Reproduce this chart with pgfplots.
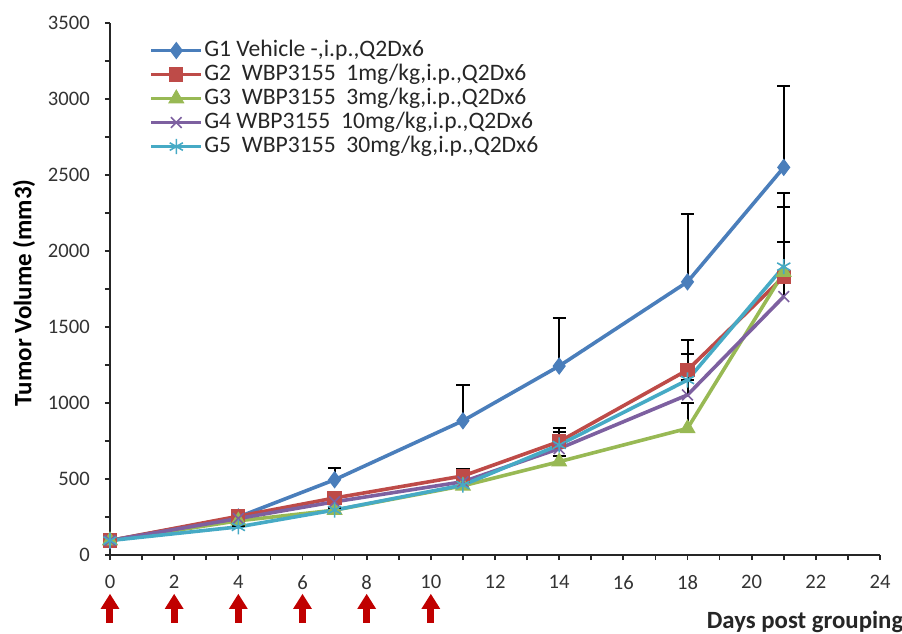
\documentclass[border=0pt]{standalone}
\usepackage{pgfplots}
\pgfplotsset{compat=1.18}
\usepackage{fontspec}
\setmainfont{Carlito}
\usetikzlibrary{arrows.meta}
\definecolor{cG1}{RGB}{74,126,187}
\definecolor{cG2}{RGB}{190,75,72}
\definecolor{cG3}{RGB}{152,185,84}
\definecolor{cG4}{RGB}{125,96,160}
\definecolor{cG5}{RGB}{70,170,197}
\definecolor{arr}{RGB}{192,0,0}
\begin{document}
\begin{tikzpicture}
\begin{axis}[
  scale only axis, width=385pt, height=266pt,
  xmin=0, xmax=24, ymin=0, ymax=3500,
  axis lines*=left, axis line style={-, line width=0.9pt, black!85},
  xtick distance=2, minor x tick num=1,
  ytick distance=500, minor y tick num=1,
  tick align=outside, major tick length=2.6pt, minor tick length=2.6pt,
  tick style={line width=0.9pt, black!85},
  /pgf/number format/assume math mode=true,
  /pgf/number format/1000 sep={},
  tick label style={font=\fontsize{10.3}{12}\selectfont, text=black!80},
  xticklabel style={yshift=-4pt},
  yticklabel style={xshift=-4pt},
  clip=false,
  ylabel={\textbf{Tumor Volume (mm3)}},
  ylabel style={font=\fontsize{12.5}{14}\selectfont, at={(rel axis cs:-0.1117,0.493)}, anchor=center},
  legend style={draw=none, fill=none, at={(rel axis cs:0.043,0.979)}, anchor=north west,
     font=\fontsize{11.8}{14}\selectfont, text=black!85,
     nodes={inner sep=0.6pt, text height=8.4pt, text depth=2.4pt, anchor=west}, cells={anchor=west}},
  legend cell align=left,
  legend image code/.code={\draw[mark repeat=2,mark phase=2] plot coordinates {(0pt,0pt) (12.5pt,0pt) (25pt,0pt)};},
  every axis plot/.append style={line width=1.8pt},
  error bars/y dir=plus, error bars/y explicit,
  error bars/error bar style={line width=1pt, black},
  error bars/error mark options={black, line width=1pt, mark size=3.3pt, rotate=90},
]
\addplot[cG1, mark=diamond*, mark size=4pt, mark options={fill=cG1, line width=0.5pt}] coordinates {
 (0,95) +- (0,0) (4,250) +- (0,10) (7,495) +- (0,75) (11,883) +- (0,233) (14,1243) +- (0,315) (18,1797) +- (0,445) (21,2550) +- (0,535)};
\addlegendentry{G1 Vehicle -,i.p.,Q2Dx6}
\addplot[cG2, mark=square*, mark size=3.3pt, mark options={fill=cG2, line width=0.5pt}] coordinates {
 (0,95) +- (0,0) (4,255) +- (0,10) (7,375) +- (0,25) (11,520) +- (0,44) (14,746) +- (0,87) (18,1217) +- (0,197) (21,1831) +- (0,549)};
\addlegendentry{G2\ \ WBP3155\ \ 1mg/kg,i.p.,Q2Dx6}
\addplot[cG3, mark=triangle*, mark size=4.2pt, mark options={fill=cG3, line width=0.5pt}] coordinates {
 (0,95) +- (0,0) (4,225) +- (0,5) (7,295) +- (0,10) (11,455) +- (0,20) (14,614) +- (0,40) (18,833) +- (0,165) (21,1860) +- (0,200)};
\addlegendentry{G3\ \ WBP3155\ \ 3mg/kg,i.p.,Q2Dx6}
\addplot[cG4, mark=x, mark size=3.8pt, mark options={line width=0.8pt}] coordinates {
 (0,95) +- (0,0) (4,240) +- (0,5) (7,350) +- (0,15) (11,482) +- (0,25) (14,700) +- (0,50) (18,1053) +- (0,100) (21,1700) +- (0,362)};
\addlegendentry{G4 WBP3155\ \ 10mg/kg,i.p.,Q2Dx6}
\addplot[cG5, mark=asterisk, mark size=3.8pt, mark options={line width=0.8pt}] coordinates {
 (0,95) +- (0,0) (4,185) +- (0,5) (7,296) +- (0,10) (11,460) +- (0,20) (14,724) +- (0,87) (18,1151) +- (0,171) (21,1897) +- (0,395)};
\addlegendentry{G5\ \ WBP3155\ \ 30mg/kg,i.p.,Q2Dx6}
\addplot[forget plot, arr, no markers, line width=3.5pt, error bars/y dir=none,
  quiver={u=0, v=192, every arrow/.append style={-{Triangle[length=7.5pt,width=8.8pt]}}}]
  coordinates {(0,-447) (2,-447) (4,-447) (6,-447) (8,-447) (10,-447)};
\node[font=\fontsize{12.4}{14}\bfseries, text=black!85, anchor=center] at (rel axis cs:0.9026,-0.126) {Days post grouping};
\coordinate (bl) at (rel axis cs:-0.14286,-0.14850);
\coordinate (tr) at (rel axis cs:1.02857,1.04323);
\end{axis}
\pgfresetboundingbox
\useasboundingbox (bl) rectangle (tr);
\end{tikzpicture}
\end{document}
